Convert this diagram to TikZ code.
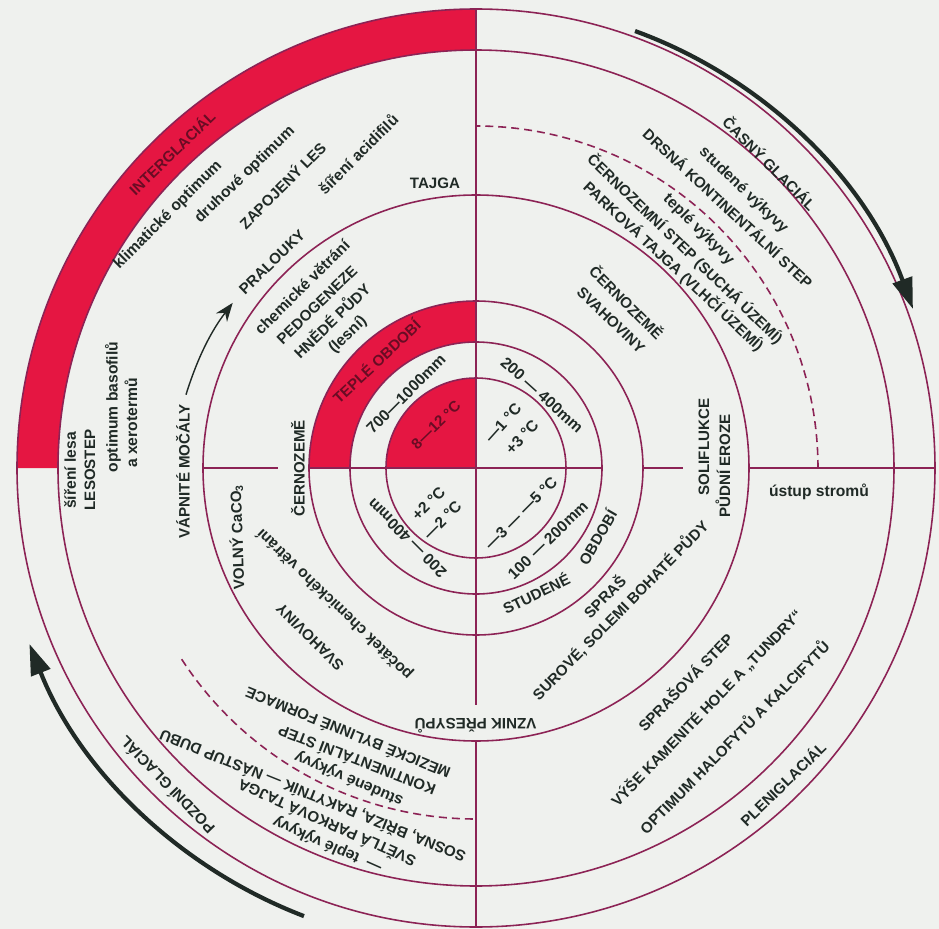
\documentclass[tikz,border=0pt]{standalone}
\usepackage{fontspec}
\setmainfont{Liberation Sans}
\usetikzlibrary{arrows.meta}
\tikzset{>={Stealth[scale=1.6]}}
\usepackage{xcolor}
\definecolor{cerv}{RGB}{229,22,66}
\definecolor{tmcerv}{RGB}{105,12,36}
\definecolor{cara}{RGB}{140,35,85}
\definecolor{inkt}{RGB}{32,42,38}
\definecolor{papir}{RGB}{239,241,238}

\tikzset{
  kruh/.style={cara, line width=0.9pt},
  carkovany/.style={kruh, dash pattern=on 0.16cm off 0.1cm},
  popis/.style={text=inkt, inner sep=0pt, font=\fontsize{8.9}{11}\selectfont\bfseries},
  velke/.style={text=inkt, inner sep=0pt, font=\fontsize{8.6}{10}\selectfont\bfseries},
  nacerv/.style={velke, text=tmcerv},
  sipka/.style={inkt, line width=2.4pt, -{Triangle[length=0.62cm,width=0.4cm]}},
}

\begin{document}
\begin{tikzpicture}
  % plocha
  \useasboundingbox (-9.52,-9.22) rectangle (9.26,9.36);
  \fill[papir] (-9.52,-9.22) rectangle (9.26,9.36);
  \coordinate (O) at (0,0);

  % červené výseče
  \fill[cerv] (O) -- (180:1.8) arc (180:90:1.8) -- cycle;
  \fill[cerv] (180:3.34) arc (180:90:3.34) -- (90:2.52) arc (90:180:2.52) -- cycle;
  \fill[cerv] (180:9.18) arc (180:90:9.18) -- (90:8.36) arc (90:180:8.36) -- cycle;

  % kružnice
  \foreach \r in {1.8,2.52,3.34,5.46,8.36,9.18}
    \draw[kruh] (O) circle (\r);

  % přerušované oblouky
  \draw[carkovany] (0:6.84) arc (0:90:6.84);
  \draw[carkovany] (213:7.02) arc (213:270:7.02);

  % osy
  \draw[kruh] (O) -- (90:9.18);
  \draw[kruh] (-3.34,0) -- (2.52,0);
  \draw[kruh] (3.34,0) -- (4.14,0);
  \draw[kruh] (5.46,0) -- (9.18,0);
  \draw[kruh] (-5.46,0) -- (-3.96,0);
  \draw[kruh] (O) -- (0,-4.74);
  \draw[kruh] (0,-5.46) -- (0,-9.18);

  % šipky
  \draw[sipka] (70:9.3) arc (70:20:9.3);
  \draw[sipka] (249:9.6) arc (249:201.5:9.6);

  % popisky - teplé období
  \node[nacerv, rotate=44] (intergl) at (134:8.77) {INTERGLACIÁL};
  \node[popis, rotate=45] (klima) at (-6.16,5.06) {klimatické optimum};
  \node[popis, rotate=44] (druhove) at (-4.62,5.86) {druhové optimum};
  \node[velke, rotate=45] (zapojeny) at (-3.88,5.66) {ZAPOJENÝ LES};
  \node[popis, rotate=45] (acidif) at (-2.36,6.28) {šíření acidifilů};
  \node[velke] (tajga) at (-0.82,5.70) {TAJGA};
  \node[velke, rotate=44] (pralouky) at (-4.08,4.12) {PRALOUKY};
  \node[popis, rotate=45] (chemvetr) at (-3.48,3.62) {chemické větrání};
  \node[velke, rotate=44] (pedogen) at (-3.18,3.26) {PEDOGENEZE};
  \node[velke, rotate=44] (hnede) at (-2.90,2.96) {HNĚDÉ PŮDY};
  \node[popis, rotate=44] (lesni) at (-2.56,2.66) {(lesní)};
  \node[nacerv, rotate=43] (teple) at (133:2.93) {TEPLÉ OBDOBÍ};
  \node[popis, rotate=45] (srazkyT) at (-1.40,1.48) {700—1000mm};
  \node[nacerv, rotate=44] (teplotaT) at (-0.80,0.86) {8—12 °C};

  % popisky - časný glaciál
  \node[popis, rotate=-42] (srazkyU) at (1.32,1.46) {200 — 400mm};
  \node[popis, rotate=48] (teplU1) at (0.54,0.90) {—1 °C};
  \node[popis, rotate=47] (teplU2) at (0.92,0.62) {+3 °C};
  \node[velke, rotate=-45] (cernozemU) at (3.02,3.32) {ČERNOZEMĚ};
  \node[velke, rotate=-44] (svahU) at (2.70,2.96) {SVAHOVINY};
  \node[velke, rotate=-43] (parkova) at (3.95,4.03) {PARKOVÁ TAJGA (VLHČÍ ÚZEMÍ)};
  \node[velke, rotate=-44] (cernstep) at (4.18,4.38) {ČERNOZEMNÍ STEP (SUCHÁ ÚZEMÍ)};
  \node[popis, rotate=-45] (teplevykU) at (4.45,4.77) {teplé výkyvy};
  \node[velke, rotate=-43] (drsna) at (5.05,5.21) {DRSNÁ KONTINENTÁLNÍ STEP};
  \node[popis, rotate=-44] (studvykU) at (5.35,5.55) {studené výkyvy};
  \node[velke, rotate=-45] (casny) at (5.88,6.10) {ČASNÝ GLACIÁL};
  \node[velke, rotate=90] (solif) at (4.56,0.42) {SOLIFLUKCE};
  \node[velke, rotate=90] (eroze) at (4.94,0.04) {PŮDNÍ EROZE};
  \node[popis] (ustup) at (6.86,-0.48) {ústup stromů};

  % popisky - pleniglaciál
  \node[popis, rotate=45] (teplS) at (0.90,-0.90) {—3 — —5 °C};
  \node[popis, rotate=44] (srazkyS) at (1.44,-1.44) {100 — 200mm};
  \node[velke, rotate=26] (studene) at (1.20,-2.50) {STUDENÉ};
  \node[velke, rotate=60] (obdobi) at (2.42,-1.38) {OBDOBÍ};
  \node[velke, rotate=45] (spras) at (2.56,-2.56) {SPRAŠ};
  \node[velke, rotate=45.5] (surove) at (2.88,-2.84) {SUROVÉ, SOLEMI BOHATÉ PŮDY};
  \node[velke, rotate=46] (sprasstep) at (4.18,-4.28) {SPRAŠOVÁ STEP};
  \node[velke, rotate=46] (vyse) at (4.61,-4.80) {VÝŠE KAMENITÉ HOLE A „TUNDRY“};
  \node[velke, rotate=45.5] (halof) at (5.15,-5.37) {OPTIMUM HALOFYTŮ A KALCIFYTŮ};
  \node[velke, rotate=44] (plenigl) at (6.13,-6.31) {PLENIGLACIÁL};

  % popisky - pozdní glaciál
  \node[velke, rotate=180] (vznik) at (-0.01,-5.16) {VZNIK PŘESYPŮ};
  \node[popis, rotate=135] (srazkyL) at (-1.38,-1.40) {200 — 400mm};
  \node[popis, rotate=45] (teplL1) at (-0.95,-0.71) {+2 °C};
  \node[popis, rotate=45] (teplL2) at (-0.67,-1.04) {—2 °C};
  \node[velke, rotate=90] (cernozemL) at (-3.56,-0.01) {ČERNOZEMĚ};
  \node[velke, rotate=90] (vapnite) at (-5.86,-0.07) {VÁPNITÉ MOČÁLY};
  \node[velke, rotate=92] (volny) at (-4.78,-1.38) {VOLNÝ CaCO\textsubscript{3}};
  \node[popis, rotate=90] (sireni) at (-8.12,-0.05) {šíření lesa};
  \node[velke, rotate=90] (lesostep) at (-7.72,-0.04) {LESOSTEP};
  \node[popis, rotate=90] (basof) at (-7.26,1.22) {optimum basofilů};
  \node[popis, rotate=90] (xeroterm) at (-6.90,0.90) {a xerotermů};
  \node[popis, rotate=136] (pocatek) at (-2.82,-2.72) {počátek chemického větrání};
  \node[velke, rotate=135] (svahL) at (-3.32,-3.38) {SVAHOVINY};
  \node[velke, rotate=158] (mezicke) at (-2.57,-5.32) {MEZICKÉ BYLINNÉ FORMACE};
  \node[velke, rotate=159] (kontin) at (-2.39,-5.87) {KONTINENTÁLNÍ STEP};
  \node[popis, rotate=157] (studvykL) at (-2.54,-6.21) {studené výkyvy};
  \node[velke, rotate=158] (sosna) at (-3.27,-6.56) {SOSNA, BŘÍZA, RAKYTNÍK — NÁSTUP DUBU};
  \node[velke, rotate=156] (svetla) at (-2.99,-7.12) {SVĚTLÁ PARKOVÁ TAJGA};
  \node[popis, rotate=156] (teplevykL) at (-2.97,-7.53) {— \ teplé výkyvy};
  \node[velke, rotate=134] (pozdni) at (-6.19,-6.35) {POZDNÍ GLACIÁL};

  % malá šipka
  \draw[inkt, line width=0.8pt, ->, shorten <=0.2cm, shorten >=0.28cm]
    (vapnite.east) to[bend left=10] (pralouky.west);
\end{tikzpicture}
\end{document}
